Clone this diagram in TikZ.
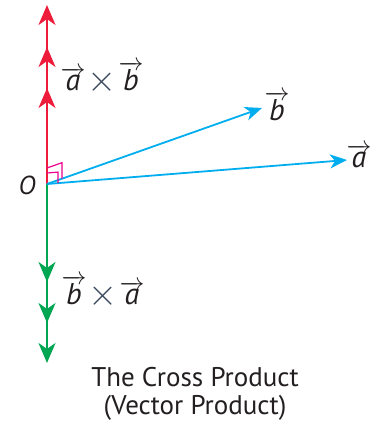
\documentclass[tikz,border=0pt]{standalone}
\usepackage{fontspec}
\setmainfont{PT Sans}
\usepackage{xcolor}
\usepackage{graphicx}
\usepackage{tikz}
\usetikzlibrary{arrows.meta, positioning, calc}

\definecolor{crossred}{RGB}{237,28,58}
\definecolor{crossgreen}{RGB}{0,166,81}
\definecolor{vecblue}{RGB}{0,174,239}
\definecolor{anglepink}{RGB}{236,0,140}
\definecolor{inkgray}{RGB}{35,31,32}
\definecolor{timesgray}{RGB}{60,75,95}

\newcommand{\vecl}[1]{$\overrightarrow{\mbox{\itshape #1}}$}
\newcommand{\crossop}{\hspace{2pt}\raisebox{-1pt}{\scalebox{1.5}{\textcolor{timesgray}{$\times$}}}\hspace{2pt}}

\begin{document}
\begin{tikzpicture}[
    x=1pt, y=1pt,
    redvec/.style={draw=crossred, line width=2.3pt, -{Stealth[length=20pt, width=17pt, inset=6pt]}},
    greenvec/.style={draw=crossgreen, line width=2.3pt, -{Stealth[length=20pt, width=17pt, inset=6pt]}},
    bluevec/.style={draw=vecblue, line width=1.8pt, -{Stealth[length=17pt, width=14pt, inset=5pt]}},
    rightmark/.style={draw=anglepink, line width=1.2pt},
    veclabel/.style={font=\fontsize{30}{32}\selectfont, text=inkgray, inner sep=0pt}
]
\useasboundingbox (0,0) rectangle (378,423);

% origin and vector ends
\coordinate (O) at (47,239);
\coordinate (ab1) at (47,418);
\coordinate (ab2) at (47,376);
\coordinate (ab3) at (47,335);
\coordinate (ba1) at (47,60);
\coordinate (ba2) at (47,100);
\coordinate (ba3) at (47,141);
\coordinate (btip) at (262,315);
\coordinate (atip) at (347,263);

% a x b and b x a
\foreach \t in {ab1,ab2,ab3}
    \draw[redvec] (O) -- (\t);
\foreach \t in {ba1,ba2,ba3}
    \draw[greenvec] (O) -- (\t);

% a and b
\draw[bluevec] (O) -- (btip);
\draw[bluevec] (O) -- (atip);

% right angles
\draw[rightmark] ($(O)+(0,16)$) -- ($(O)!16pt!(btip)+(0,16)$) -- ($(O)!16pt!(btip)$);
\draw[rightmark] ($(O)+(0,11)$) -- ($(O)!11pt!(atip)+(0,11)$) -- ($(O)!11pt!(atip)$);

% labels
\node[veclabel, font=\fontsize{26}{28}\selectfont] (Olabel) at (27,238) {\itshape O};
\node[veclabel] (bLabel) at (277,317) {\vecl{b}};
\node[veclabel] (aLabel) at (359,267) {\vecl{a}};
\node[veclabel] (abLabel) at (102,345) {\vecl{a}\crossop\vecl{b}};
\node[veclabel] (baLabel) at (103,131) {\vecl{b}\crossop\vecl{a}};
\node[align=center, text=inkgray, font=\fontsize{27}{28}\selectfont] (title) at (195,29)
    {The Cross Product\\(Vector Product)};

\end{tikzpicture}
\end{document}
